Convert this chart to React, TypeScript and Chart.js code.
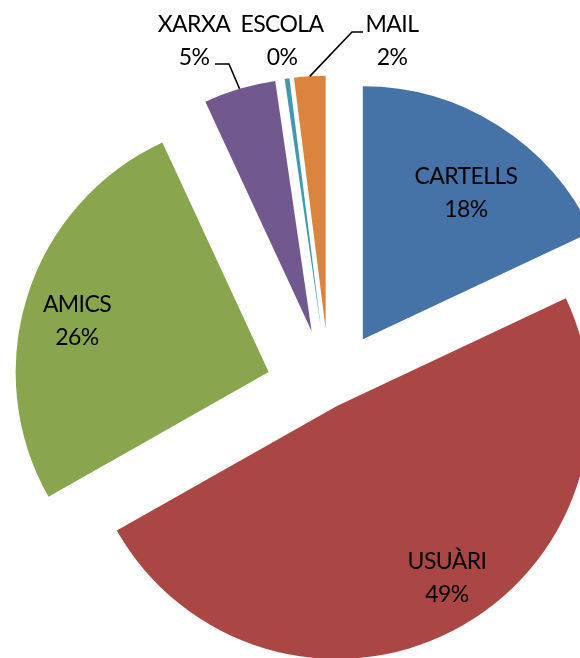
import React, { useEffect, useRef } from "react";
import { Chart, registerables } from "chart.js";

Chart.register(...registerables);

// ---- data ----
const categories = ["CARTELLS", "USUÀRI", "AMICS", "XARXA", "ESCOLA", "MAIL"];
const values = [18.0, 48.8, 26.3, 4.6, 0.3, 2.0];
const percentLabels = ["18%", "49%", "26%", "5%", "0%", "2%"];
const colors = ["#4572A7", "#AA4643", "#89A54E", "#71588F", "#4198AF", "#DB843D"];

// ---- layout (pixels, not data) ----
const CANVAS_W = 600;
const CANVAS_H = 700;
const CX = 329.6;
const CY = 391.7;
const R = 253;
const EXPLODE = [62, 16, 64, 63, 63, 63];
const LABEL_POS = [
  { x: 466, y: 184 },
  { x: 447, y: 569 },
  { x: 77, y: 312 },
  { x: 194, y: 32 },
  { x: 282, y: 32 },
  { x: 392, y: 32 },
];
const LINE_GAP = 32;
const LEADERS: Record<number, number[][]> = {
  3: [[215, 64], [229, 64]],
  5: [[363, 32], [352, 32]],
};
const FONT = "23px Lato, 'Open Sans', sans-serif";

const explodePlugin = {
  id: "explodePie",
  beforeDatasetDraw(chart: any, args: any) {
    const ctx = chart.ctx;
    args.meta.data.forEach((arc: any, i: number) => {
      const p = arc.getProps(["startAngle", "endAngle"], true);
      const mid = (p.startAngle + p.endAngle) / 2;
      const d = EXPLODE[i] || 0;
      ctx.save();
      ctx.translate(Math.cos(mid) * d, Math.sin(mid) * d);
      arc.draw(ctx);
      ctx.restore();
    });
    return false;
  },
  afterDraw(chart: any) {
    const ctx = chart.ctx;
    const meta = chart.getDatasetMeta(0);
    ctx.save();
    // leader lines
    ctx.strokeStyle = "#000";
    ctx.lineWidth = 1.6;
    Object.keys(LEADERS).forEach((k) => {
      const i = Number(k);
      const arc = meta.data[i];
      const p = arc.getProps(["x", "y", "startAngle", "endAngle", "outerRadius"], true);
      const mid = (p.startAngle + p.endAngle) / 2;
      const rr = p.outerRadius + EXPLODE[i];
      const ex = p.x + Math.cos(mid) * rr;
      const ey = p.y + Math.sin(mid) * rr;
      const pts = LEADERS[i];
      ctx.beginPath();
      ctx.moveTo(pts[0][0], pts[0][1]);
      for (let j = 1; j < pts.length; j++) ctx.lineTo(pts[j][0], pts[j][1]);
      ctx.lineTo(ex, ey);
      ctx.stroke();
    });
    // labels
    ctx.fillStyle = "#000";
    ctx.font = FONT;
    try {
      (ctx as any).letterSpacing = "-0.6px";
    } catch (e) {}
    ctx.textAlign = "center";
    ctx.textBaseline = "alphabetic";
    categories.forEach((c, i) => {
      const pos = LABEL_POS[i];
      ctx.fillText(c, pos.x, pos.y);
      ctx.fillText(percentLabels[i], pos.x, pos.y + LINE_GAP + 1);
    });
    ctx.restore();
  },
};

export default function App() {
  const ref = useRef<HTMLCanvasElement | null>(null);
  useEffect(() => {
    if (!ref.current) return;
    const chart = new Chart(ref.current, {
      type: "pie",
      data: {
        labels: categories,
        datasets: [
          {
            data: values,
            backgroundColor: colors,
            borderWidth: 0,
            offset: 0,
            hoverOffset: 0,
          } as any,
        ],
      },
      options: {
        animation: false,
        responsive: false,
        maintainAspectRatio: false,
        devicePixelRatio: 1,
        layout: {
          padding: {
            left: CX - R,
            top: CY - R,
            right: CANVAS_W - (CX + R),
            bottom: CANVAS_H - (CY + R),
          },
        },
        plugins: {
          legend: { display: false },
          tooltip: { enabled: false },
        },
      } as any,
      plugins: [explodePlugin],
    });
    return () => chart.destroy();
  }, []);
  return (
    <div
      style={{
        position: "fixed",
        left: 0,
        top: 0,
        width: 580,
        height: 658,
        overflow: "hidden",
        background: "#fff",
      }}
    >
      <canvas
        ref={ref}
        width={CANVAS_W}
        height={CANVAS_H}
        style={{ display: "block", width: CANVAS_W, height: CANVAS_H }}
      />
    </div>
  );
}
